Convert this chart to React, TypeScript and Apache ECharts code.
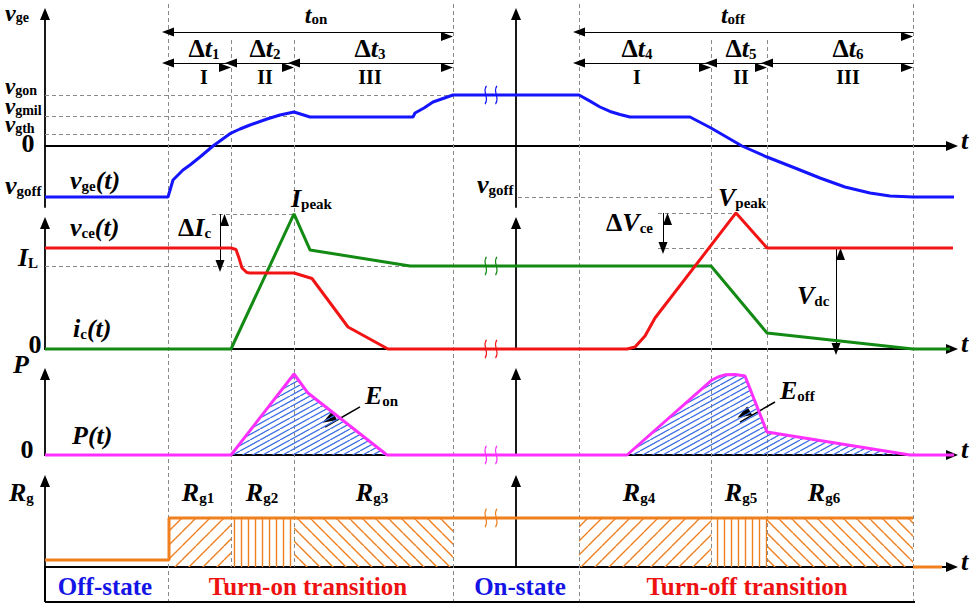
import React, { useEffect, useRef } from 'react';
import * as echarts from 'echarts';

const SERIF = '"Liberation Serif", "Times New Roman", serif';

// ---------- time axis (arbitrary units) ----------
const T_MAX = 90.7;
const phaseMajor = [12.3, 40.8, 53.4, 86.8];
const phaseMinor = [18.6, 24.9, 66.6, 72.2];
const turnOnBounds = [12.3, 18.6, 24.9, 40.8];
const turnOffBounds = [53.4, 66.6, 72.2, 86.8];
const breakT = 44.6;

// ---------- gate-emitter voltage v_ge (V) ----------
const vgeT = [0, 12.3, 12.8, 13.8, 14.5, 15.5, 16.8, 18.6, 19.5, 20.5, 22.2, 23.5, 24.9, 26.5, 36.8, 37.0, 37.9, 38.8, 40.8,
  53.4, 54.5, 55.5, 56.5, 57.5, 58.5, 64.5, 66.6, 69.7, 72.2, 75.0, 77.5, 80.0, 82.5, 84.5, 86.8, 91.3];
const vgeV = [-15, -15, -10.0, -7.06, -5.59, -3.24, 0, 3.82, 5.0, 6.18, 7.94, 9.12, 10.0, 8.53, 8.53, 9.71, 11.18, 12.94, 15,
  15, 13.2, 11.47, 10.15, 9.26, 8.53, 8.53, 5.29, 0, -3.24, -6.47, -9.41, -12.06, -13.82, -14.7, -15, -15];
const VGON = 15, VGMIL = 8.8, VGTH = 3.5, VGOFF = -15;

// ---------- collector current i_c (p.u. of I_L) ----------
const icT = [0, 18.6, 24.9, 26.5, 36.5, 66.6, 72.2, 86.8, 90.5];
const icV = [0, 0, 1.627, 1.193, 1, 1, 0.193, 0, 0];
const IL = 1, IPEAK = 1.627;

// ---------- collector-emitter voltage v_ce (p.u. of V_dc) ----------
const vceT = [0, 18.6, 19.1, 19.4, 19.7, 20.2, 20.5, 24.9, 26.7, 30.3, 34.3, 58.2, 59.0, 60.0, 61.0, 69.1, 72.2, 90.8];
const vceV = [1, 1, 0.985, 0.901, 0.802, 0.757, 0.752, 0.752, 0.698, 0.218, 0, 0, 0.02, 0.129, 0.307, 1.347, 1, 1];
const VDC = 1, VPEAK = 1.347;

// ---------- switching power P (p.u.) ----------
const pT = [0, 18.6, 24.9, 26.3, 34.2, 58.2, 66.7, 67.3, 68.0, 69.0, 70.0, 72.2, 86.5, 91.3];
const pV = [0, 0, 1, 0.765, 0, 0, 0.926, 0.963, 0.99, 0.994, 0.975, 0.284, 0, 0];

// ---------- gate resistance R_g (p.u.) ----------
const rgT = [0, 12.4, 12.4, 86.8, 86.8, 86.8, 89.7];
const rgV = [0.143, 0.143, 1, 1, null, 0, 0];
const RG_ON = 1;
const rgSlash = [[12.3, 18.6], [53.4, 66.6]];
const rgVert = [[18.6, 24.9], [66.6, 72.2]];
const rgBack = [[24.9, 40.8], [72.2, 86.8]];

// ---------- colours ----------
const BLUE = '#1414ff';
const GREEN = '#138a13';
const RED = '#f21414';
const MAGENTA = '#ff30ff';
const ORANGE = '#f07f1e';
const HATCH_BLUE = '#3c6ee6';
const GRAY = '#8a8a8a';

const zip = (t: number[], v: (number | null)[]) => t.map((x, i) => [x, v[i]]);

const SQUIG = 'path://M4,0 C1,5 6,12 3,18 M11,0 C8,5 13,12 10,18';

function hatch(kind: string, color: string, lw: number) {
  const c = document.createElement('canvas');
  let w = 13, h = 13;
  if (kind === 'fwd') { w = 14; h = 14; }
  if (kind === 'fwd30') { w = 20; h = 11; }
  if (kind === 'vert') { w = 7; h = 7; }
  c.width = w; c.height = h;
  const g = c.getContext('2d')!;
  g.strokeStyle = color; g.lineWidth = lw;
  g.beginPath();
  if (kind === 'vert') { g.moveTo(w / 2, -1); g.lineTo(w / 2, h + 1); }
  else if (kind === 'fwd30') { for (const x0 of [-w, -w / 2, 0, w / 2, w]) { g.moveTo(x0, h); g.lineTo(x0 + w, 0); } }
  else if (kind === 'fwd') { for (const x0 of [-w, 0, w]) { g.moveTo(x0, h); g.lineTo(x0 + w, 0); } }
  else { for (const x0 of [-w, 0, w]) { g.moveTo(x0, 0); g.lineTo(x0 + w, h); } }
  g.stroke();
  return { image: c, repeat: 'repeat', imageWidth: w, imageHeight: h } as any;
}

const LH = 0.75;
function makeRich(fs: number, sfs: number) {
  return {
    i: { fontFamily: SERIF, fontStyle: 'italic', fontWeight: 'bold', fontSize: fs, lineHeight: fs * LH, verticalAlign: 'bottom' },
    s: { fontFamily: SERIF, fontWeight: 'bold', fontSize: sfs, lineHeight: sfs * LH, verticalAlign: 'bottom' },
    b: { fontFamily: SERIF, fontWeight: 'bold', fontSize: fs, lineHeight: fs * LH, verticalAlign: 'bottom' },
    r: { fontFamily: SERIF, fontWeight: 'bold', fontSize: 20, lineHeight: 20 * LH, verticalAlign: 'bottom' },
  };
}

function L(text: string, x: number, baseline: number, align = 'left', fs = 26, sfs = 15) {
  return {
    type: 'text', x, y: baseline - 0.34 * fs, silent: true, z: 100,
    style: {
      text, rich: makeRich(fs, sfs), fill: '#000', align, verticalAlign: 'middle', textAlign: align, textVerticalAlign: 'middle',
      fontFamily: SERIF, fontWeight: 'bold', fontSize: fs,
    },
  };
}
const R = (text: string, x: number, baseline: number) => L(text, x, baseline, 'center', 20, 14);

function plain(text: string, x: number, baseline: number, fill: string) {
  return {
    type: 'text', x, y: baseline - 0.34 * 25, silent: true, z: 100,
    style: {
      text, fill, align: 'center', verticalAlign: 'middle', textAlign: 'center', textVerticalAlign: 'middle',
      fontFamily: SERIF, fontWeight: 'bold', fontSize: 25,
    },
  };
}

const dashed = (pairs: number[][][]) => ({
  silent: true, symbol: ['none', 'none'], label: { show: false }, emphasis: { disabled: true },
  lineStyle: { color: GRAY, type: [4, 3], width: 1 },
  data: pairs.map(([a, b]) => [{ coord: a }, { coord: b }]),
});
const solid = (pairs: number[][][], color = '#000', width = 2) => ({
  silent: true, symbol: ['none', 'none'], label: { show: false }, emphasis: { disabled: true },
  lineStyle: { color, type: 'solid', width },
  data: pairs.map(([a, b]) => [{ coord: a }, { coord: b }]),
});
const arrows = (pairs: number[][][], both = true, width = 1, size = [9, 12]) => ({
  silent: true, symbol: both ? ['triangle', 'triangle'] : ['none', 'triangle'], symbolSize: size,
  symbolOffset: [0, '50%'], label: { show: false }, emphasis: { disabled: true },
  itemStyle: { color: '#000' },
  lineStyle: { color: '#000', type: 'solid', width },
  data: pairs.map(([a, b]) => [{ coord: a }, { coord: b }]),
});
const squig = (t: number, v: number, color: string) => ({
  silent: true, symbol: SQUIG, symbolSize: [12, 18], label: { show: false },
  itemStyle: { color: 'none', borderColor: color, borderWidth: 1.5 },
  data: [{ coord: [t, v] }],
});

function buildOption() {
  // 0-3: visible panels, 4: full-page overlay, 5: taller twin of panel 2 (holds its peaks)
  const grids = [
    { top: 14, height: 193 },
    { top: 223, height: 126 },
    { top: 374, height: 81 },
    { top: 481, height: 86 },
    { top: 0, height: 604 },
    { top: 190, height: 159 },
  ];
  const axisLine = { color: '#000', width: 1.8 };
  const hidden = { axisTick: { show: false }, axisLabel: { show: false }, splitLine: { show: false } };
  const xAxis = grids.map((_, i) => ({
    type: 'value', gridIndex: i, min: 0, max: T_MAX, show: i < 4,
    axisLine: { onZero: true, symbol: ['none', 'triangle'], symbolSize: [10, 12], lineStyle: axisLine },
    ...hidden,
  }));
  const yAx = (gridIndex: number, min: number, max: number, offset: number, show = true) => ({
    type: 'value', gridIndex, min, max, position: 'left', offset, show,
    axisLine: { show: true, onZero: false, symbol: ['none', 'triangle'], symbolSize: [10, 12], lineStyle: axisLine },
    ...hidden,
  });
  const p1min = -61 / 3.4, p1max = 132 / 3.4;
  const yAxis = [
    yAx(0, p1min, p1max, 0), yAx(0, p1min, p1max, -471),
    yAx(1, 0, 126 / 83, 0), yAx(1, 0, 126 / 101, -471),
    yAx(2, 0, 1, 0), yAx(2, 0, 1, -471),
    yAx(3, 0, 86 / 49, 0), yAx(3, 0, 86 / 49, -471),
    { type: 'value', gridIndex: 4, min: 0, max: 604, inverse: true, show: false },
    yAx(5, 0, 159 / 83, 0, false), // current, same scale as axis 2
    yAx(5, 0, 159 / 101, 0, false), // voltage, same scale as axis 3
  ];

  const lineBase = { type: 'line', symbol: 'none', clip: false, silent: true, z: 5 };
  const pairs = (b: number[]) => b.slice(0, -1).map((a, i) => [a, b[i + 1]]);
  const hatchData = (iv: number[][]) => {
    const out: any[] = [];
    iv.forEach(([a, b]) => { out.push([a, RG_ON], [b, RG_ON], [b, null]); });
    return out;
  };

  const series: any[] = [
    // ---------- overlay: phase boundaries, time arrows, frame ----------
    {
      type: 'line', xAxisIndex: 4, yAxisIndex: 8, data: [], symbol: 'none', silent: true, z: 1,
      markLine: dashed([
        ...phaseMajor.map((t) => [[t, 4], [t, 602]]),
        ...phaseMinor.map((t) => [[t, 40], [t, 567]]),
      ]),
    },
    {
      type: 'line', xAxisIndex: 4, yAxisIndex: 8, data: [], symbol: 'none', silent: true, z: 2,
      markLine: arrows([
        [[turnOnBounds[0], 32], [turnOnBounds[3], 32]],
        [[turnOffBounds[0], 32], [turnOffBounds[3], 32]],
        ...pairs(turnOnBounds).map(([a, b]) => [[a, 63], [b, 63]]),
        ...pairs(turnOffBounds).map(([a, b]) => [[a, 63], [b, 63]]),
      ]),
    },
    {
      type: 'line', xAxisIndex: 4, yAxisIndex: 8, data: [], symbol: 'none', silent: true, z: 2,
      markLine: solid([
        [[0, 566], [0, 602]],
        [[0, 602], [turnOffBounds[3] + 0.2, 602]],
      ]),
    },
    // ---------- panel 1: v_ge ----------
    {
      ...lineBase, name: 'vge', xAxisIndex: 0, yAxisIndex: 0, data: zip(vgeT, vgeV),
      lineStyle: { color: BLUE, width: 3 }, itemStyle: { color: BLUE },
      markLine: dashed([
        [[0, VGON], [turnOnBounds[3], VGON]],
        [[0, VGMIL], [turnOnBounds[2], VGMIL]],
        [[0, VGTH], [turnOnBounds[1], VGTH]],
        [[47.3, VGOFF], [66.6, VGOFF]],
      ]),
      markPoint: squig(breakT, VGON, BLUE),
    },
    // ---------- panel 2: i_c and v_ce ----------
    {
      ...lineBase, name: 'ic', xAxisIndex: 5, yAxisIndex: 9, data: zip(icT, icV),
      lineStyle: { color: GREEN, width: 3 }, itemStyle: { color: GREEN },
      markLine: dashed([
        [[0, IL], [36.5, IL]],
        [[16.7, IPEAK], [24.9, IPEAK]],
      ]),
      markPoint: squig(breakT, IL, GREEN),
    },
    {
      ...lineBase, name: 'vce', xAxisIndex: 5, yAxisIndex: 10, data: zip(vceT, vceV),
      lineStyle: { color: RED, width: 3 }, itemStyle: { color: RED },
      markLine: dashed([
        [[61.3, VPEAK], [69.1, VPEAK]],
        [[61.3, VDC], [72.2, VDC]],
      ]),
      markPoint: squig(breakT, 0, RED),
    },
    {
      type: 'line', xAxisIndex: 5, yAxisIndex: 9, data: [], symbol: 'none', silent: true, z: 6,
      markLine: arrows([[[17.5, IL], [17.5, IPEAK]]]),
    },
    {
      type: 'line', xAxisIndex: 5, yAxisIndex: 10, data: [], symbol: 'none', silent: true, z: 6,
      markLine: arrows([[[61.8, VDC], [61.8, VPEAK]], [[79.1, 0], [79.1, VDC]]]),
    },
    // ---------- panel 3: P ----------
    {
      ...lineBase, name: 'P', xAxisIndex: 2, yAxisIndex: 4, data: zip(pT, pV),
      lineStyle: { color: MAGENTA, width: 3 }, itemStyle: { color: MAGENTA },
      areaStyle: { color: hatch('fwd30', HATCH_BLUE, 1.3), opacity: 1 },
      markPoint: squig(breakT, 0, MAGENTA),
    },
    {
      type: 'line', xAxisIndex: 2, yAxisIndex: 4, data: [], symbol: 'none', silent: true, z: 6,
      markLine: arrows([[[31.5, 0.593], [28.0, 0.346]], [[73.0, 0.654], [69.5, 0.407]]], false, 1.5, [10, 14]),
    },
    // ---------- panel 4: R_g ----------
    {
      ...lineBase, name: 'rgSlash', xAxisIndex: 3, yAxisIndex: 6, data: hatchData(rgSlash), z: 3,
      lineStyle: { opacity: 0, width: 0 }, areaStyle: { color: hatch('fwd', ORANGE, 1.4), opacity: 1 },
    },
    {
      ...lineBase, name: 'rgVert', xAxisIndex: 3, yAxisIndex: 6, data: hatchData(rgVert), z: 3,
      lineStyle: { opacity: 0, width: 0 }, areaStyle: { color: hatch('vert', ORANGE, 1.4), opacity: 1 },
    },
    {
      ...lineBase, name: 'rgBack', xAxisIndex: 3, yAxisIndex: 6, data: hatchData(rgBack), z: 3,
      lineStyle: { opacity: 0, width: 0 }, areaStyle: { color: hatch('back', ORANGE, 1.4), opacity: 1 },
    },
    {
      ...lineBase, name: 'Rg', xAxisIndex: 3, yAxisIndex: 6, data: zip(rgT, rgV),
      lineStyle: { color: ORANGE, width: 3 }, itemStyle: { color: ORANGE },
      markPoint: squig(breakT, RG_ON, ORANGE),
    },
  ];

  const texts: any[] = [
    // panel 1
    L('{i|v}{s|ge}', 5, 24, 'left', 24, 14),
    L('{i|v}{s|gon}', 5, 97, 'left', 23, 14),
    L('{i|v}{s|gmil}', 5, 117, 'left', 23, 14),
    L('{i|v}{s|gth}', 5, 135, 'left', 23, 14),
    L('{b|0}', 28, 156, 'center'),
    L('{i|v}{s|goff}', 5, 198),
    L('{i|v}{s|ge}{i|(t)}', 70, 193),
    L('{i|v}{s|goff}', 477, 197),
    L('{i|t}{s|on}', 316, 26, 'center', 24, 15),
    L('{i|t}{s|off}', 733, 26, 'center', 24, 15),
    L('{b|Δ}{i|t}{s|1}', 204, 61, 'center'),
    L('{b|Δ}{i|t}{s|2}', 265, 61, 'center'),
    L('{b|Δ}{i|t}{s|3}', 370, 61, 'center'),
    L('{b|Δ}{i|t}{s|4}', 637, 61, 'center'),
    L('{b|Δ}{i|t}{s|5}', 741, 61, 'center'),
    L('{b|Δ}{i|t}{s|6}', 848, 61, 'center'),
    R('{r|I}', 204, 86),
    R('{r|II}', 265, 86),
    R('{r|III}', 370, 86),
    R('{r|I}', 637, 86),
    R('{r|II}', 741, 86),
    R('{r|III}', 848, 86),
    L('{i|t}', 961, 153),
    // panel 2
    L('{i|v}{s|ce}{i|(t)}', 70, 240),
    L('{b|Δ}{i|I}{s|c}', 178, 240),
    L('{i|I}{s|L}', 18, 270),
    L('{i|i}{s|c}{i|(t)}', 73, 341),
    L('{b|0}', 35, 357, 'center'),
    L('{i|I}{s|peak}', 291, 211),
    L('{i|V}{s|peak}', 718, 210),
    L('{b|Δ}{i|V}{s|ce}', 606, 235),
    L('{i|V}{s|dc}', 797, 308),
    L('{i|t}', 961, 356),
    // panel 3
    L('{i|P}', 13, 377),
    L('{i|P(t)}', 72, 448),
    L('{b|0}', 27, 462, 'center'),
    L('{i|E}{s|on}', 365, 408),
    L('{i|E}{s|off}', 780, 403),
    L('{i|t}', 961, 462),
    // panel 4
    L('{i|R}{s|g}', 9, 505),
    L('{i|R}{s|g1}', 198, 505, 'center'),
    L('{i|R}{s|g2}', 262, 505, 'center'),
    L('{i|R}{s|g3}', 372, 505, 'center'),
    L('{i|R}{s|g4}', 639, 505, 'center'),
    L('{i|R}{s|g5}', 741, 505, 'center'),
    L('{i|R}{s|g6}', 824, 505, 'center'),
    L('{i|t}', 961, 574),
    plain('Off-state', 105, 595, '#1414e6'),
    plain('Turn-on transition', 308, 595, '#ee1111'),
    plain('On-state', 520, 595, '#1414e6'),
    plain('Turn-off transition', 747, 595, '#ee1111'),
  ];

  return {
    animation: false,
    backgroundColor: '#fff',
    grid: grids.map((g) => ({ left: 45, width: 907, top: g.top, height: g.height })),
    xAxis, yAxis, series,
    graphic: { elements: texts },
  };
}

export default function App() {
  const ref = useRef<HTMLDivElement>(null);
  useEffect(() => {
    document.body.style.margin = '0';
    const chart = echarts.init(ref.current!, null, { renderer: 'svg' });
    chart.setOption(buildOption() as any);
    return () => chart.dispose();
  }, []);
  return <div ref={ref} style={{ position: 'absolute', left: 0, top: 0, width: 971, height: 604, background: '#fff' }} />;
}
